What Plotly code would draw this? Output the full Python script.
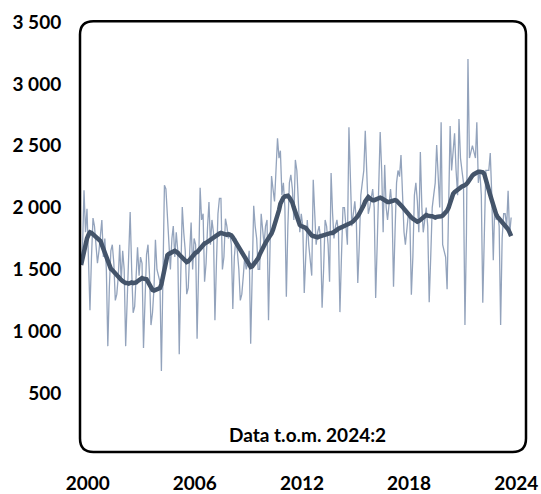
import pandas as pd
import plotly.graph_objects as go

# monthly values 2000:1 - 2024:2
monthly = [
    1560, 1700, 2140, 1800, 1990, 1650, 1170, 1600, 1915, 1850, 1700, 1550,  # 2000
    1650, 1780, 1900, 1600, 1750, 1500, 880, 1350, 1650, 1700, 1550, 1250,   # 2001
    1300, 1450, 1700, 1400, 1650, 1500, 880, 1250, 1600, 1965, 1500, 1150,   # 2002
    1200, 1400, 1680, 1450, 1600, 1550, 865, 1250, 1620, 1700, 1450, 1050,   # 2003
    1150, 1350, 1740, 1500, 1450, 1400, 680, 1500, 2180, 2150, 1900, 1650,   # 2004
    1500, 1750, 1850, 1600, 1800, 1650, 815, 1450, 2005, 1800, 1650, 1300,   # 2005
    1350, 1650, 1880, 1500, 1750, 1700, 940, 1500, 2160, 1900, 1950, 1400,   # 2006
    1550, 1850, 2045, 1700, 1900, 1800, 1090, 1550, 1950, 2075, 2075, 1500,  # 2007
    1600, 1910, 1850, 1750, 1800, 1700, 1180, 1600, 1750, 1650, 1500, 1250,  # 2008
    1300, 1450, 1600, 1500, 1550, 1650, 900, 1450, 2015, 1850, 1750, 1500,   # 2009
    1500, 1950, 1800, 1700, 1850, 1900, 1090, 1700, 2255, 2150, 2050, 2300,  # 2010
    2560, 2400, 2460, 2100, 2200, 2000, 1280, 1850, 2200, 2265, 2150, 1900,  # 2011
    2385, 2300, 2000, 1800, 1950, 1850, 1310, 1600, 1900, 1700, 1550, 1450,  # 2012
    2225, 1950, 1700, 1800, 1850, 1750, 1190, 1500, 1900, 1850, 1700, 1400,  # 2013
    2280, 1950, 1750, 1850, 1900, 1800, 1155, 1600, 2000, 2000, 1850, 1700,  # 2014
    2650, 2100, 1850, 1950, 2050, 1900, 1390, 1700, 2100, 2200, 2300, 2620,  # 2015
    2200, 1950, 2000, 2100, 2150, 2000, 1270, 1700, 2250, 2610, 2300, 1800,  # 2016
    2345, 2000, 1900, 2050, 2150, 2000, 1360, 1800, 2200, 2300, 2250, 2425,  # 2017
    2100, 1800, 1700, 1850, 1950, 1900, 1295, 1600, 2100, 2200, 2050, 1800,  # 2018
    2450, 2000, 1800, 1900, 2000, 1850, 1235, 1600, 2000, 2100, 2200, 2505,  # 2019
    2200, 2000, 2690, 1700, 1650, 1600, 1340, 1900, 2660, 2300, 2450, 2600,  # 2020
    2300, 2100, 2715, 2400, 2300, 2200, 1050, 1800, 3200, 2400, 2450, 2500,  # 2021
    2450, 2400, 2690, 2200, 2300, 2100, 1230, 1900, 2300, 2300, 2300, 2440,  # 2022
    2100, 1575, 2000, 1900, 1950, 1850, 1050, 1750, 1950, 1950, 1850, 2135,  # 2023
    1780, 1920,                                                              # 2024
]

# smoothed trend (thick line)
trend = [
    1535, 1600, 1660, 1710, 1750, 1780, 1800, 1795, 1785, 1770, 1760, 1750,
    1745, 1730, 1700, 1665, 1630, 1595, 1560, 1530, 1505, 1495, 1480, 1460,
    1445, 1435, 1425, 1415, 1405, 1395, 1390, 1390, 1385, 1390, 1395, 1390,
    1390, 1395, 1405, 1415, 1425, 1430, 1425, 1420, 1420, 1400, 1370, 1345,
    1335, 1330, 1335, 1340, 1345, 1350, 1380, 1450, 1520, 1580, 1615, 1625,
    1635, 1640, 1645, 1650, 1645, 1635, 1620, 1605, 1590, 1580, 1570, 1560,
    1565, 1580, 1600, 1615, 1625, 1635, 1640, 1655, 1670, 1685, 1700, 1710,
    1715, 1720, 1730, 1740, 1750, 1755, 1760, 1770, 1780, 1790, 1795, 1790,
    1785, 1780, 1780, 1785, 1780, 1775, 1760, 1740, 1720, 1700, 1680, 1665,
    1645, 1625, 1600, 1580, 1555, 1535, 1520, 1525, 1540, 1555, 1575, 1590,
    1620, 1650, 1670, 1695, 1715, 1735, 1750, 1760, 1790, 1820, 1855, 1885,
    1930, 1980, 2030, 2060, 2080, 2090, 2095, 2095, 2080, 2060, 2040, 2000,
    1960, 1920, 1885, 1860, 1850, 1845, 1840, 1835, 1820, 1800, 1785, 1775,
    1770, 1765, 1760, 1760, 1765, 1770, 1775, 1780, 1780, 1785, 1790, 1790,
    1795, 1795, 1800, 1810, 1820, 1830, 1835, 1840, 1845, 1850, 1855, 1860,
    1865, 1870, 1880, 1890, 1900, 1915, 1930, 1950, 1970, 1990, 2020, 2050,
    2075, 2085, 2075, 2065, 2060, 2060, 2065, 2070, 2075, 2080, 2075, 2065,
    2060, 2050, 2045, 2045, 2050, 2055, 2060, 2060, 2055, 2045, 2035, 2020,
    2005, 1990, 1975, 1960, 1945, 1930, 1920, 1910, 1900, 1890, 1885, 1890,
    1900, 1915, 1930, 1940, 1940, 1935, 1930, 1930, 1930, 1925, 1920, 1925,
    1925, 1925, 1930, 1935, 1945, 1960, 1975, 2000, 2040, 2080, 2110, 2125,
    2135, 2150, 2160, 2165, 2170, 2175, 2180, 2190, 2205, 2230, 2250, 2260,
    2270, 2280, 2285, 2290, 2290, 2290, 2285, 2270, 2220, 2170, 2130, 2100,
    2060, 2010, 1970, 1945, 1925, 1910, 1900, 1890, 1870, 1850, 1840, 1825,
    1800, 1770,
]

y_ticks = [500, 1000, 1500, 2000, 2500, 3000, 3500]
y_labels = ["500", "1 000", "1 500", "2 000", "2 500", "3 000", "3 500"]
x_years = ["2000", "2006", "2012", "2018", "2024"]

dates = pd.date_range("2000-01-01", periods=len(monthly), freq="MS")

FONT = "Lato"
DARK = "#44546A"
LIGHT = "#93A3BC"

fig = go.Figure()
fig.add_trace(go.Scatter(
    x=dates, y=monthly, mode="lines",
    line=dict(color=LIGHT, width=1.3),
    hoverinfo="skip",
))
fig.add_trace(go.Scatter(
    x=dates, y=trend, mode="lines",
    line=dict(color=DARK, width=4.5),
    hoverinfo="skip",
))

# rounded frame round the plot area (paper coords)
x0, x1, y0, y1 = 0.0, 1.0, 0.007, 1.002
rx, ry = 0.03, 0.031
frame = (
    f"M {x0 + rx},{y1} L {x1 - rx},{y1} Q {x1},{y1} {x1},{y1 - ry} "
    f"L {x1},{y0 + ry} Q {x1},{y0} {x1 - rx},{y0} "
    f"L {x0 + rx},{y0} Q {x0},{y0} {x0},{y0 + ry} "
    f"L {x0},{y1 - ry} Q {x0},{y1} {x0 + rx},{y1} Z"
)

fig.update_layout(
    width=541, height=494,
    margin=dict(l=80, r=15, t=22, b=39),
    paper_bgcolor="white", plot_bgcolor="white",
    showlegend=False,
    font=dict(family=FONT, color="black"),
    shapes=[dict(type="path", path=frame, xref="paper", yref="paper",
                 line=dict(color="black", width=2.5), layer="above")],
    annotations=[dict(
        text="<b>Data t.o.m. 2024:2</b>", x=0.511, y=0.048,
        xref="paper", yref="paper", yanchor="middle", showarrow=False,
        font=dict(family=FONT, size=19, color="black"),
    )],
    xaxis=dict(
        range=["1999-12-10", "2024-12-01"],
        tickvals=[f"{y}-05-15" for y in x_years],
        ticktext=[f"<b>{y}</b>" for y in x_years],
        tickfont=dict(family=FONT, size=19, color="black"),
        ticks="outside", ticklen=11, tickcolor="rgba(0,0,0,0)",
        showgrid=False, zeroline=False, showline=False, automargin=False,
    ),
    yaxis=dict(
        range=[0, 3500],
        tickvals=y_ticks,
        ticktext=[f"<b>{t}</b>" for t in y_labels],
        tickfont=dict(family=FONT, size=19, color="black"),
        ticks="outside", ticklen=14, tickcolor="rgba(0,0,0,0)",
        showgrid=False, zeroline=False, showline=False, automargin=False,
    ),
)

fig.write_html("out.html", config={"displayModeBar": False},
               post_script="document.body.style.margin='0';")
